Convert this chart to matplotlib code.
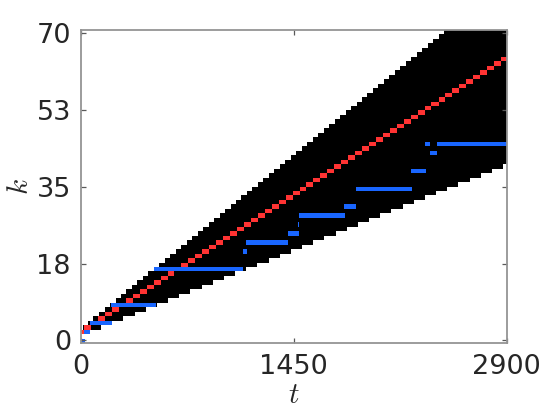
import numpy as np
import matplotlib
matplotlib.use("Agg")
import matplotlib.pyplot as plt

matplotlib.rcParams["mathtext.fontset"] = "cm"

# ---- data (70 rows, t from 0 to 2900) ----
n_rows = 70
t_max = 2900

# black wedge: for rows 2..69, where black starts / ends along t
black_rows = list(range(2, 70))
black_left = [0, 11, 48, 85, 123, 160, 197, 235, 272, 309, 346, 384, 421, 458,
              496, 533, 570, 608, 645, 682, 719, 757, 794, 831, 869, 906, 943,
              980, 1018, 1055, 1092, 1130, 1167, 1204, 1242, 1279, 1316, 1354,
              1391, 1428, 1465, 1503, 1540, 1577, 1615, 1652, 1689, 1727, 1764,
              1801, 1838, 1876, 1913, 1950, 1988, 2025, 2062, 2100, 2137, 2174,
              2211, 2249, 2286, 2323, 2361, 2398, 2435, 2473]
black_right = [61, 137, 213, 289, 365, 441, 517, 593, 669, 745, 821, 897, 973,
               1049, 1125, 1201, 1277, 1353, 1429, 1505, 1581, 1657, 1733, 1809,
               1885, 1961, 2037, 2113, 2189, 2265, 2341, 2417, 2493, 2569, 2645,
               2721, 2797, 2873] + [2900] * 30

# red staircase: rows 2..63, start of each red cell (ends where the next starts)
red_rows = list(range(2, 64))
red_start = [0, 21, 69, 116, 163, 211, 258, 305, 352, 400, 447, 494, 542, 589,
             636, 684, 731, 778, 825, 873, 920, 967, 1015, 1062, 1109, 1157,
             1204, 1251, 1298, 1346, 1393, 1440, 1488, 1535, 1582, 1630, 1677,
             1724, 1771, 1819, 1866, 1913, 1961, 2008, 2055, 2103, 2150, 2197,
             2244, 2292, 2339, 2386, 2434, 2481, 2528, 2576, 2623, 2670, 2717,
             2765, 2812, 2859]
red_end = red_start[1:] + [2900]

# blue segments
blue_row = [0, 2, 4, 8, 16, 20, 22, 24, 26, 28, 30, 34, 38, 42, 44, 44]
blue_t0 = [0, 20, 64, 203, 499, 1103, 1125, 1411, 1479, 1486, 1792, 1874,
           2249, 2378, 2344, 2426]
blue_t1 = [25, 63, 210, 510, 1103, 1130, 1411, 1486, 1486, 1799, 1874, 2255,
           2351, 2426, 2378, 2900]

black = (0.0, 0.0, 0.0)
red = (1.0, 0.2, 0.2)
blue = (0.1, 0.4, 1.0)

# raster on a fine t grid (one column per unit of t)
tc = np.arange(t_max) + 0.5
img = np.ones((n_rows, t_max, 3))
for r, a, b in zip(black_rows, black_left, black_right):
    img[r, (tc >= a) & (tc < b)] = black
for r, a, b in zip(red_rows, red_start, red_end):
    img[r, (tc >= a) & (tc < b)] = red
for r, a, b in zip(blue_row, blue_t0, blue_t1):
    img[r, (tc >= a) & (tc < max(b, a + 7))] = blue

half = 35 / 69  # rows are spread over k = 0..70
fig = plt.figure(figsize=(5.6, 4.2), dpi=100)
ax = fig.add_axes([0.1441, 0.1840, 0.7607, 0.7435])
ax.imshow(img, origin="lower", aspect="auto", interpolation="nearest",
          extent=[0, t_max, -half, 70 + half])
ax.set_xlim(0, t_max)
ax.set_ylim(-half, 70 + half)

ax.set_xticks([0, 1450, 2900])
ax.set_xticklabels(["0", "1450", "2900"])
ax.set_yticks([0, 17.5, 35, 52.5, 70])
ax.set_yticklabels(["0", "18", "35", "53", "70"])

frame = (0.58, 0.58, 0.58)
for s in ax.spines.values():
    s.set_color(frame)
    s.set_linewidth(1.3)
ax.tick_params(direction="in", length=3.5, width=0.9, color=(0.35, 0.35, 0.35),
               labelsize=19.5, labelcolor=(0.15, 0.15, 0.15),
               top=True, right=True)
ax.tick_params(axis="x", pad=8)
ax.tick_params(axis="y", pad=7)

ax.set_xlabel(r"$t$", fontsize=21, color=(0.15, 0.15, 0.15), labelpad=1)
ax.set_ylabel(r"$k$", fontsize=21, color=(0.15, 0.15, 0.15), labelpad=2)

fig.savefig("out.png", dpi=100)
